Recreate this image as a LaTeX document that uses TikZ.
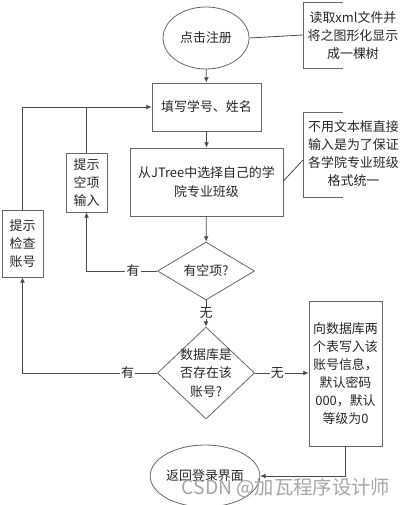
\documentclass[tikz,border=0pt]{standalone}
\usepackage{fontspec}
\setmainfont{Noto Sans CJK SC}
\usetikzlibrary{arrows.meta,shapes.geometric}

\tikzset{
    txt/.style={font=\fontsize{9.7pt}{13.6pt}\selectfont, text=black!85, align=center, inner sep=0pt},
    box/.style={txt, draw=black!60, line width=0.6pt, rectangle},
    oval/.style={txt, draw=black!60, line width=0.6pt, ellipse},
    decision/.style={draw=black!60, line width=0.6pt, diamond, inner sep=0pt},
    link/.style={draw=black!70, line width=0.6pt},
    arr/.style={link, -{Latex[length=4pt,width=3.6pt]}},
    yn/.style={txt, fill=white, inner xsep=1pt}
}

\begin{document}
\begin{tikzpicture}[x=0.75pt,y=-0.75pt]

    \useasboundingbox (0,0) rectangle (409,505);

    % main flow
    % nodes (steps)
    \node[oval, minimum width=64.5pt, minimum height=46.5pt] (start) at (206,38) {点击注册};
    \node[box, minimum width=81.75pt, minimum height=36pt] (fill) at (206.5,107) {填写学号、姓名};
    \node[box, minimum width=114.75pt, minimum height=51pt] (pick) at (206.5,182) {从JTree中选择自己的学\\院专业班级};
    \node[decision, minimum width=72.75pt, minimum height=43.5pt] (empty) at (206,271) {};
    \node[txt] (emptytxt) at (empty) {有空项?};
    \node[decision, minimum width=72.75pt, minimum height=69pt] (exists) at (206,373) {};
    \node[txt] (existstxt) at (exists) {数据库是\\否存在该\\账号?};
    \node[box, minimum width=54.75pt, minimum height=108.75pt] (write) at (345.5,373.5) {向数据库两\\个表写入该\\账号信息，\\默认密码\\000，默认\\等级为0};
    \node[oval, minimum width=75pt, minimum height=46.5pt] (back) at (205,476) {返回登录界面};

    % nodes (hints)
    \node[box, minimum width=30.75pt, minimum height=44.25pt] (hintempty) at (86.5,182.5) {提示\\空项\\输入};
    \node[box, minimum width=30.75pt, minimum height=50.25pt] (hintcheck) at (22.5,243.5) {提示\\检查\\账号};

    % paths
    \draw[arr] (start) -- (fill); % click -> fill in
    \draw[arr] (fill) -- (pick); % fill in -> JTree
    \draw[arr] (pick) -- (empty); % JTree -> empty?
    \draw[arr] (empty) -- node[yn] {无} (exists); % empty? -> exists?
    \draw[arr] (exists.east) -- node[yn, pos=0.42] {无} (write.west |- exists.east); % exists? -> write
    \draw[arr] (write.south) |- (back.east); % write -> back
    \draw[arr] (empty.west) -- node[yn, pos=0.34] {有} (empty.west -| hintempty.south) -- (hintempty.south); % empty? -> hint
    \draw[arr] (exists.west) -- node[yn, pos=0.22] {有} (exists.west -| hintcheck.south) -- (hintcheck.south); % exists? -> hint
    \draw[arr] (hintcheck.north) |- (fill.west); % hint -> fill in
    \draw[link] (hintempty.north) -- (hintempty.north |- fill.west); % hint -> fill in

    % notes
    \coordinate (tree) at (303,35);
    \draw[link, draw=black!60] (343,2) -- (303,2) -- (303,68) -- (343,68);
    \node[txt] (treetxt) at (353,35.5) {读取xml文件并\\将之图形化显示\\成一棵树};
    \draw[link] (start.east) -- (tree);

    \coordinate (form) at (303,160);
    \draw[link, draw=black!60] (343,112) -- (303,112) -- (303,197) -- (343,197);
    \node[txt] (formtxt) at (353.5,153.5) {不用文本框直接\\输入是为了保证\\各学院专业班级\\格式统一};
    \draw[link] (pick.east |- 0,181) -- (form);

    % watermark
    \node[font=\fontsize{14.5pt}{16pt}\selectfont, text=black!35, inner sep=0pt] (mark) at (286,488) {CSDN @加瓦程序设计师};

\end{tikzpicture}
\end{document}
